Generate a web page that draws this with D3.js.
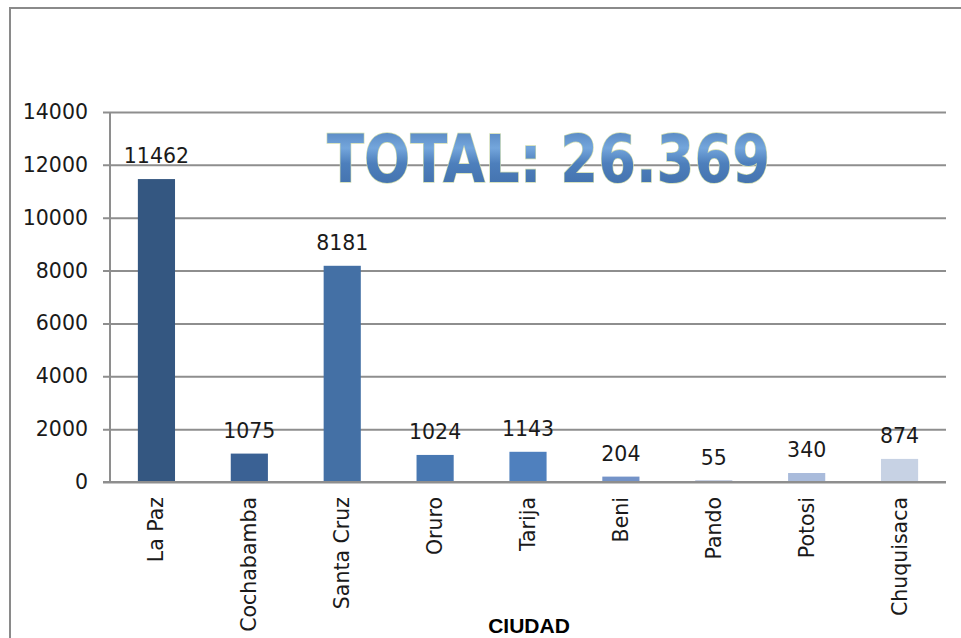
<!DOCTYPE html>
<html>
<head>
<meta charset="utf-8">
<script src="https://cdn.jsdelivr.net/npm/d3@7"></script>
<style>
  html, body { margin: 0; padding: 0; background: #fff; }
  svg { display: block; }
</style>
</head>
<body>
<svg id="chart" width="961" height="638"></svg>
<script>
// Cities and their counts
const cities = ["La Paz", "Cochabamba", "Santa Cruz", "Oruro", "Tarija", "Beni", "Pando", "Potosi", "Chuquisaca"];
const counts = [11462, 1075, 8181, 1024, 1143, 204, 55, 340, 874];
const barColors = ["#345781", "#3a6194", "#4470a5", "#4878b2", "#4f80be", "#7493c8", "#8797bd", "#a9bbdb", "#c7d2e4"];
const yTicks = [0, 2000, 4000, 6000, 8000, 10000, 12000, 14000];
const totalLabel = "TOTAL: 26.369";
const axisTitle = "CIUDAD";

const svg = d3.select("#chart");
const plot = { left: 110, right: 946, top: 112, bottom: 482 };
const gridColor = "#8e8e8e";
const labelFont = "'DejaVu Sans', sans-serif";
const textColor = "#1a1a1a";

// Outer frame (top and left edges)
svg.append("path")
  .attr("d", `M10,638 V8 H961`)
  .attr("fill", "none")
  .attr("stroke", "#8a8a8a")
  .attr("stroke-width", 2);

const x = d3.scaleBand().domain(cities).range([plot.left, plot.right]).paddingInner(0.6).paddingOuter(0.3);
const y = d3.scaleLinear().domain([0, 14000]).range([plot.bottom, plot.top]);

// Horizontal gridlines with tick labels
const yAxis = d3.axisLeft(y).tickValues(yTicks).tickSize(-(plot.right - plot.left)).tickPadding(14).tickFormat(d3.format("d"));
const gy = svg.append("g").attr("transform", `translate(${plot.left},0)`).call(yAxis);
gy.select(".domain").remove();
gy.selectAll(".tick line").attr("stroke", gridColor).attr("stroke-width", 2).attr("x1", -7);
gy.selectAll(".tick text")
  .attr("font-family", labelFont)
  .attr("font-size", 20.5)
  .attr("fill", textColor)
  .attr("x", -22);

// Vertical axis line
svg.append("line")
  .attr("x1", plot.left).attr("x2", plot.left)
  .attr("y1", plot.top).attr("y2", plot.bottom)
  .attr("stroke", gridColor).attr("stroke-width", 2);

// Bars
const data = cities.map((c, i) => ({ city: c, value: counts[i], color: barColors[i] }));
svg.append("g").selectAll("rect").data(data).join("rect")
  .attr("x", d => x(d.city))
  .attr("width", x.bandwidth())
  .attr("y", d => y(d.value))
  .attr("height", d => y(0) - y(d.value))
  .attr("fill", d => d.color);

// Redraw baseline over bars
svg.append("line")
  .attr("x1", plot.left - 7).attr("x2", plot.right)
  .attr("y1", y(0)).attr("y2", y(0))
  .attr("stroke", gridColor).attr("stroke-width", 2);

// Value labels
svg.append("g").selectAll("text").data(data).join("text")
  .attr("x", d => x(d.city) + x.bandwidth() / 2)
  .attr("y", d => y(d.value) - 16)
  .attr("text-anchor", "middle")
  .attr("font-family", labelFont)
  .attr("font-size", 20.5)
  .attr("fill", textColor)
  .text(d => d.value);

// Category labels, rotated
svg.append("g").selectAll("text").data(data).join("text")
  .attr("transform", d => `translate(${x(d.city) + x.bandwidth() / 2 + 7},${plot.bottom + 15}) rotate(-90)`)
  .attr("text-anchor", "end")
  .attr("font-family", labelFont)
  .attr("font-size", 20.5)
  .attr("fill", textColor)
  .text(d => d.city);

// Axis title
svg.append("text")
  .attr("x", 529).attr("y", 633)
  .attr("text-anchor", "middle")
  .attr("font-family", "'Liberation Sans', Arial, sans-serif")
  .attr("font-weight", "bold")
  .attr("font-size", 21)
  .attr("fill", "#000")
  .text(axisTitle);

// Total banner with a metallic blue fill
const defs = svg.append("defs");
const grad = defs.append("linearGradient").attr("id", "totalFill").attr("x1", 0).attr("y1", 0).attr("x2", 0).attr("y2", 1);
grad.append("stop").attr("offset", "0%").attr("stop-color", "#4a78b4");
grad.append("stop").attr("offset", "35%").attr("stop-color", "#74a6dc");
grad.append("stop").attr("offset", "55%").attr("stop-color", "#4d7fbc");
grad.append("stop").attr("offset", "100%").attr("stop-color", "#3f6ba6");

svg.append("text")
  .attr("x", 327).attr("y", 182)
  .attr("textLength", 443)
  .attr("lengthAdjust", "spacingAndGlyphs")
  .attr("font-family", "'DejaVu Sans', sans-serif")
  .attr("font-weight", "bold")
  .attr("font-size", 66)
  .attr("fill", "url(#totalFill)")
  .attr("stroke", "#cfdcb0")
  .attr("stroke-width", 1.5)
  .attr("paint-order", "stroke")
  .text(totalLabel);
</script>
</body>
</html>
